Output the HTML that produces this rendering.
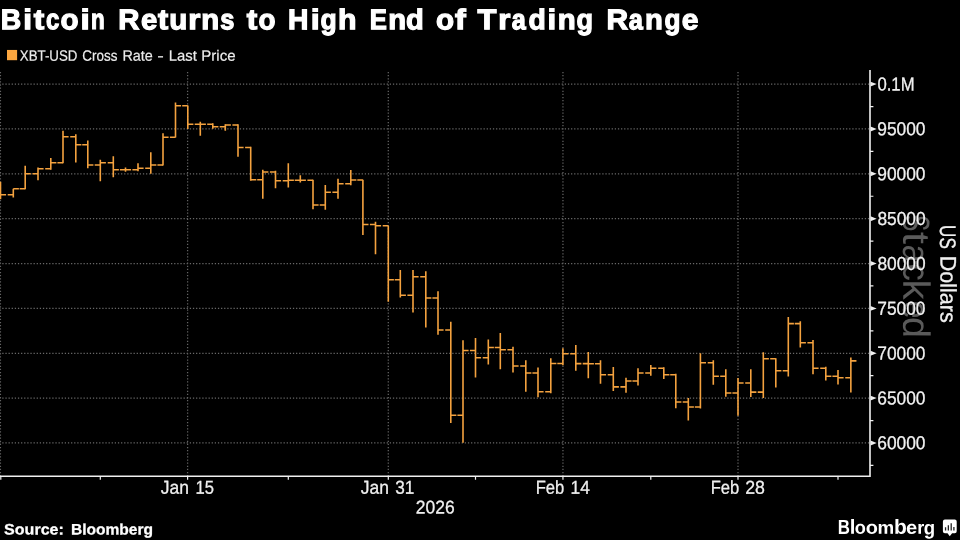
<!DOCTYPE html>
<html><head><meta charset="utf-8"><title>Bitcoin Returns to High End of Trading Range</title>
<style>
html,body{margin:0;padding:0;background:#000;}
body{width:960px;height:540px;overflow:hidden;}
svg{display:block;font-family:"Liberation Sans",sans-serif;}
svg text{filter:opacity(1);}
</style></head><body>
<svg width="960" height="540" viewBox="0 0 960 540">
<rect width="960" height="540" fill="#000"/>
<text transform="translate(903.18 214.68) rotate(90.03) scale(1.2435 1.8980)" font-size="20" fill="#5a5a5a">S</text>
<text transform="translate(903.18 231.84) rotate(90.03) scale(2.2157 1.8980)" font-size="20" fill="#5a5a5a">t</text>
<text transform="translate(903.18 244.74) rotate(90.03) scale(1.6000 1.8980)" font-size="20" fill="#5a5a5a">a</text>
<text transform="translate(903.18 263.53) rotate(90.03) scale(1.7326 1.8980)" font-size="20" fill="#5a5a5a">c</text>
<text transform="translate(903.18 279.57) rotate(90.03) scale(2.0231 1.8980)" font-size="20" fill="#5a5a5a">k</text>
<text transform="translate(903.18 300.64) rotate(90.03) scale(1.5957 1.8980)" font-size="20" fill="#5a5a5a">e</text>
<text transform="translate(903.18 317.00) rotate(90.03) scale(1.8778 1.8980)" font-size="20" fill="#5a5a5a">d</text>
<path d="M0 84.11H870.0M0 128.97H870.0M0 173.82H870.0M0 218.68H870.0M0 263.54H870.0M0 308.39H870.0M0 353.25H870.0M0 398.11H870.0M0 442.97H870.0" stroke="#696969" stroke-width="1.25" stroke-dasharray="1.25 1.875" stroke-dashoffset="0.83" fill="none"/>
<path d="M0.45 70.0V476.2M187.60 70.0V476.2M388.30 70.0V476.2M562.95 70.0V476.2M738.00 70.0V476.2" stroke="#646464" stroke-width="1.25" stroke-dasharray="1.25 1.875" stroke-dashoffset="1.2" fill="none"/>
<path d="M0.50 181.7V199.2M13.30 188.7V197.5M25.20 165.8V189.2M38.00 167.5V180.3M50.80 158.0V169.7M63.00 130.8V163.3M75.80 134.2V162.5M87.80 140.5V168.3M100.30 159.7V181.3M113.30 156.3V177.2M125.50 167.5V171.7M138.00 163.3V171.3M150.80 152.3V173.8M163.00 133.3V165.5M175.50 102.5V137.5M187.80 105.5V129.0M200.30 121.7V135.8M212.80 123.3V128.8M225.30 124.2V130.8M238.00 124.2V156.7M250.70 146.7V180.8M262.80 169.7V198.7M275.50 170.8V188.3M288.30 163.3V187.5M300.30 175.3V182.5M313.00 179.7V209.2M325.30 185.0V209.7M338.00 178.7V198.7M350.80 170.0V185.3M362.90 179.7V235.0M375.50 221.7V254.2M388.30 225.8V301.7M400.30 270.0V297.5M413.00 270.0V312.5M425.80 271.3V327.5M438.00 291.3V334.7M450.80 321.7V423.0M463.00 340.3V442.8M475.50 338.0V377.4M488.30 339.5V364.5M500.30 333.0V369.2M513.00 346.7V372.5M525.80 360.3V391.7M538.00 367.5V397.2M550.80 358.3V393.3M562.90 348.2V365.2M575.80 345.0V370.8M588.30 352.0V378.3M600.50 360.3V383.7M613.30 367.0V391.0M626.00 377.7V392.7M638.00 368.2V385.5M650.80 365.0V375.8M663.80 367.2V378.9M675.80 373.7V408.3M688.30 398.0V420.5M700.40 353.3V408.5M713.30 360.3V384.8M725.80 369.2V396.7M738.00 378.0V415.8M750.80 369.2V397.0M763.30 352.2V398.0M775.80 358.3V387.5M788.30 317.0V376.5M800.30 321.2V347.5M813.00 340.0V374.2M825.80 366.7V380.6M838.00 370.0V384.5M850.85 357.6V392.6" stroke="#f4a23f" stroke-width="1.6" fill="none"/>
<path d="M0.50 194.7h5.6M13.30 188.7h5.6M13.30 194.7h-5.6M25.20 173.8h5.6M25.20 188.7h-5.6M38.00 168.8h5.6M38.00 173.8h-5.6M50.80 162.8h5.6M50.80 168.8h-5.6M63.00 136.8h5.6M63.00 162.8h-5.6M75.80 144.8h5.6M75.80 136.8h-5.6M87.80 165.0h5.6M87.80 144.8h-5.6M100.30 162.8h5.6M100.30 165.0h-5.6M113.30 169.8h5.6M113.30 162.8h-5.6M125.50 169.8h5.6M125.50 169.8h-5.6M138.00 168.3h5.6M138.00 169.8h-5.6M150.80 165.0h5.6M150.80 168.3h-5.6M163.00 137.2h5.6M163.00 165.0h-5.6M175.50 105.8h5.6M175.50 137.2h-5.6M187.80 124.2h5.6M187.80 105.8h-5.6M200.30 124.2h5.6M200.30 124.2h-5.6M212.80 126.7h5.6M212.80 124.2h-5.6M225.30 125.0h5.6M225.30 126.7h-5.6M238.00 147.5h5.6M238.00 125.0h-5.6M250.70 179.7h5.6M250.70 147.5h-5.6M262.80 172.0h5.6M262.80 179.7h-5.6M275.50 180.8h5.6M275.50 172.0h-5.6M288.30 180.2h5.6M288.30 180.8h-5.6M300.30 180.2h5.6M300.30 180.2h-5.6M313.00 205.0h5.6M313.00 180.2h-5.6M325.30 192.2h5.6M325.30 205.0h-5.6M338.00 183.7h5.6M338.00 192.2h-5.6M350.80 180.0h5.6M350.80 183.7h-5.6M362.90 224.5h5.6M362.90 180.0h-5.6M375.50 225.8h5.6M375.50 224.5h-5.6M388.30 279.7h5.6M388.30 225.8h-5.6M400.30 295.3h5.6M400.30 279.7h-5.6M413.00 276.7h5.6M413.00 295.3h-5.6M425.80 298.0h5.6M425.80 276.7h-5.6M438.00 330.0h5.6M438.00 298.0h-5.6M450.80 415.3h5.6M450.80 330.0h-5.6M463.00 350.5h5.6M463.00 415.3h-5.6M475.50 357.8h5.6M475.50 350.5h-5.6M488.30 347.5h5.6M488.30 357.8h-5.6M500.30 349.7h5.6M500.30 347.5h-5.6M513.00 366.0h5.6M513.00 349.7h-5.6M525.80 373.0h5.6M525.80 366.0h-5.6M538.00 391.7h5.6M538.00 373.0h-5.6M550.80 363.5h5.6M550.80 391.7h-5.6M562.90 353.8h5.6M562.90 363.5h-5.6M575.80 363.6h5.6M575.80 353.8h-5.6M588.30 363.7h5.6M588.30 363.6h-5.6M600.50 374.7h5.6M600.50 363.7h-5.6M613.30 386.9h5.6M613.30 374.7h-5.6M626.00 381.0h5.6M626.00 386.9h-5.6M638.00 373.0h5.6M638.00 381.0h-5.6M650.80 368.2h5.6M650.80 373.0h-5.6M663.80 374.8h5.6M663.80 368.2h-5.6M675.80 402.0h5.6M675.80 374.8h-5.6M688.30 407.0h5.6M688.30 402.0h-5.6M700.40 362.8h5.6M700.40 407.0h-5.6M713.30 376.2h5.6M713.30 362.8h-5.6M725.80 393.0h5.6M725.80 376.2h-5.6M738.00 383.0h5.6M738.00 393.0h-5.6M750.80 392.1h5.6M750.80 383.0h-5.6M763.30 358.8h5.6M763.30 392.1h-5.6M775.80 370.8h5.6M775.80 358.8h-5.6M788.30 323.6h5.6M788.30 370.8h-5.6M800.30 342.8h5.6M800.30 323.6h-5.6M813.00 368.2h5.6M813.00 342.8h-5.6M825.80 376.2h5.6M825.80 368.2h-5.6M838.00 377.8h5.6M838.00 376.2h-5.6M850.85 360.9h5.6M850.85 377.8h-5.6" stroke="#f4a23f" stroke-width="1.6" fill="none"/>
<path d="M870.0 70.0V477.0M0 476.2H870.0" stroke="#f0f0f0" stroke-width="1.6" fill="none"/>
<path d="M870.5 81.66L876.7 84.11L870.5 86.56ZM870.5 126.52L876.7 128.97L870.5 131.42ZM870.5 171.37L876.7 173.82L870.5 176.27ZM870.5 216.23L876.7 218.68L870.5 221.13ZM870.5 261.09L876.7 263.54L870.5 265.99ZM870.5 305.94L876.7 308.39L870.5 310.84ZM870.5 350.80L876.7 353.25L870.5 355.70ZM870.5 395.66L876.7 398.11L870.5 400.56ZM870.5 440.52L876.7 442.97L870.5 445.42Z" fill="#f0f0f0"/>
<path d="M870.0 106.54h3.4M870.0 151.40h3.4M870.0 196.25h3.4M870.0 241.11h3.4M870.0 285.97h3.4M870.0 330.82h3.4M870.0 375.68h3.4M870.0 420.54h3.4M870.0 465.40h3.4" stroke="#f0f0f0" stroke-width="1.2" fill="none"/>
<path d="M0.80 476.2v3.6M187.60 476.2v3.6M388.30 476.2v3.6M562.95 476.2v3.6M738.00 476.2v3.6M100.30 476.2v3.6M288.30 476.2v3.6M475.50 476.2v3.6M650.80 476.2v3.6M838.00 476.2v3.6" stroke="#f0f0f0" stroke-width="1.2" fill="none"/>
<text transform="translate(877.46 90.48) rotate(0.03) scale(0.8345 0.9412)" font-size="20" fill="#f0f0f0" stroke="#f0f0f0" stroke-width="0.3">0.1M</text>
<text transform="translate(877.31 135.34) rotate(0.03) scale(0.8672 0.9412)" font-size="20" fill="#f0f0f0" stroke="#f0f0f0" stroke-width="0.3">95000</text>
<text transform="translate(877.31 180.19) rotate(0.03) scale(0.8672 0.9412)" font-size="20" fill="#f0f0f0" stroke="#f0f0f0" stroke-width="0.3">90000</text>
<text transform="translate(877.39 225.05) rotate(0.03) scale(0.8656 0.9412)" font-size="20" fill="#f0f0f0" stroke="#f0f0f0" stroke-width="0.3">85000</text>
<text transform="translate(877.39 269.91) rotate(0.03) scale(0.8656 0.9412)" font-size="20" fill="#f0f0f0" stroke="#f0f0f0" stroke-width="0.3">80000</text>
<text transform="translate(877.22 314.77) rotate(0.03) scale(0.8688 0.9412)" font-size="20" fill="#f0f0f0" stroke="#f0f0f0" stroke-width="0.3">75000</text>
<text transform="translate(877.22 359.62) rotate(0.03) scale(0.8688 0.9412)" font-size="20" fill="#f0f0f0" stroke="#f0f0f0" stroke-width="0.3">70000</text>
<text transform="translate(877.26 404.48) rotate(0.03) scale(0.8680 0.9412)" font-size="20" fill="#f0f0f0" stroke="#f0f0f0" stroke-width="0.3">65000</text>
<text transform="translate(877.26 449.34) rotate(0.03) scale(0.8680 0.9412)" font-size="20" fill="#f0f0f0" stroke="#f0f0f0" stroke-width="0.3">60000</text>
<text transform="translate(160.87 493.76) rotate(0.03) scale(0.8738 0.9395)" font-size="20" fill="#f0f0f0" stroke="#f0f0f0" stroke-width="0.3">Jan</text>
<text transform="translate(195.58 493.67) rotate(0.03) scale(0.8317 0.9343)" font-size="20" fill="#f0f0f0" stroke="#f0f0f0" stroke-width="0.3">15</text>
<text transform="translate(360.87 493.76) rotate(0.03) scale(0.8738 0.9395)" font-size="20" fill="#f0f0f0" stroke="#f0f0f0" stroke-width="0.3">Jan</text>
<text transform="translate(395.28 493.67) rotate(0.03) scale(0.8606 0.9343)" font-size="20" fill="#f0f0f0" stroke="#f0f0f0" stroke-width="0.3">31</text>
<text transform="translate(535.66 493.76) rotate(0.03) scale(0.8297 0.9395)" font-size="20" fill="#f0f0f0" stroke="#f0f0f0" stroke-width="0.3">Feb</text>
<text transform="translate(570.52 493.67) rotate(0.03) scale(0.8704 0.9343)" font-size="20" fill="#f0f0f0" stroke="#f0f0f0" stroke-width="0.3">14</text>
<text transform="translate(710.66 493.76) rotate(0.03) scale(0.8297 0.9395)" font-size="20" fill="#f0f0f0" stroke="#f0f0f0" stroke-width="0.3">Feb</text>
<text transform="translate(745.25 493.67) rotate(0.03) scale(0.8862 0.9343)" font-size="20" fill="#f0f0f0" stroke="#f0f0f0" stroke-width="0.3">28</text>
<text transform="translate(415.76 513.38) rotate(0.03) scale(0.8741 0.9273)" font-size="20" fill="#f0f0f0" stroke="#f0f0f0" stroke-width="0.3">2026</text>
<text transform="translate(940.47 225.11) rotate(90.03) scale(0.8516 1.1246)" font-size="20" fill="#f0f0f0" stroke="#f0f0f0" stroke-width="0.3">US</text>
<text transform="translate(940.47 255.79) rotate(90.03) scale(1.0764 1.1246)" font-size="20" fill="#f0f0f0" stroke="#f0f0f0" stroke-width="0.3">Dollars</text>
<text transform="translate(0.69 29.19) rotate(0.03) scale(1.4176 1.4281)" font-size="20" font-weight="700" fill="#fff" stroke="#fff" stroke-width="0.85">B</text>
<text transform="translate(23.26 29.19) rotate(0.03) scale(1.5833 1.4281)" font-size="20" font-weight="700" fill="#fff" stroke="#fff" stroke-width="0.85">i</text>
<text transform="translate(33.77 29.19) rotate(0.03) scale(1.5714 1.4281)" font-size="20" font-weight="700" fill="#fff" stroke="#fff" stroke-width="0.85">t</text>
<text transform="translate(46.05 29.19) rotate(0.03) scale(1.1981 1.4281)" font-size="20" font-weight="700" fill="#fff" stroke="#fff" stroke-width="0.85">c</text>
<text transform="translate(60.45 29.19) rotate(0.03) scale(1.4783 1.4281)" font-size="20" font-weight="700" fill="#fff" stroke="#fff" stroke-width="0.85">o</text>
<text transform="translate(80.38 29.19) rotate(0.03) scale(1.6667 1.4281)" font-size="20" font-weight="700" fill="#fff" stroke="#fff" stroke-width="0.85">i</text>
<text transform="translate(91.02 29.19) rotate(0.03) scale(1.1185 1.4281)" font-size="20" font-weight="700" fill="#fff" stroke="#fff" stroke-width="0.85">n</text>
<text transform="translate(118.34 29.19) rotate(0.03) scale(1.4667 1.4281)" font-size="20" font-weight="700" fill="#fff" stroke="#fff" stroke-width="0.85">R</text>
<text transform="translate(140.95 29.19) rotate(0.03) scale(1.4571 1.4281)" font-size="20" font-weight="700" fill="#fff" stroke="#fff" stroke-width="0.85">e</text>
<text transform="translate(158.07 29.19) rotate(0.03) scale(1.5286 1.4281)" font-size="20" font-weight="700" fill="#fff" stroke="#fff" stroke-width="0.85">t</text>
<text transform="translate(169.28 29.19) rotate(0.03) scale(1.4762 1.4281)" font-size="20" font-weight="700" fill="#fff" stroke="#fff" stroke-width="0.85">u</text>
<text transform="translate(188.13 29.19) rotate(0.03) scale(1.5603 1.4281)" font-size="20" font-weight="700" fill="#fff" stroke="#fff" stroke-width="0.85">r</text>
<text transform="translate(201.21 29.19) rotate(0.03) scale(1.4692 1.4281)" font-size="20" font-weight="700" fill="#fff" stroke="#fff" stroke-width="0.85">n</text>
<text transform="translate(220.15 29.19) rotate(0.03) scale(1.2727 1.4281)" font-size="20" font-weight="700" fill="#fff" stroke="#fff" stroke-width="0.85">s</text>
<text transform="translate(246.78 29.19) rotate(0.03) scale(1.5714 1.4281)" font-size="20" font-weight="700" fill="#fff" stroke="#fff" stroke-width="0.85">t</text>
<text transform="translate(258.48 29.19) rotate(0.03) scale(1.3913 1.4281)" font-size="20" font-weight="700" fill="#fff" stroke="#fff" stroke-width="0.85">o</text>
<text transform="translate(287.89 29.19) rotate(0.03) scale(1.4127 1.4281)" font-size="20" font-weight="700" fill="#fff" stroke="#fff" stroke-width="0.85">H</text>
<text transform="translate(310.63 29.19) rotate(0.03) scale(1.6111 1.4281)" font-size="20" font-weight="700" fill="#fff" stroke="#fff" stroke-width="0.85">i</text>
<text transform="translate(320.50 29.19) rotate(0.03) scale(1.3242 1.4281)" font-size="20" font-weight="700" fill="#fff" stroke="#fff" stroke-width="0.85">g</text>
<text transform="translate(338.03 29.19) rotate(0.03) scale(1.5120 1.4281)" font-size="20" font-weight="700" fill="#fff" stroke="#fff" stroke-width="0.85">h</text>
<text transform="translate(369.81 29.19) rotate(0.03) scale(1.2863 1.4281)" font-size="20" font-weight="700" fill="#fff" stroke="#fff" stroke-width="0.85">E</text>
<text transform="translate(388.32 29.19) rotate(0.03) scale(1.4597 1.4281)" font-size="20" font-weight="700" fill="#fff" stroke="#fff" stroke-width="0.85">n</text>
<text transform="translate(406.06 29.19) rotate(0.03) scale(1.4521 1.4281)" font-size="20" font-weight="700" fill="#fff" stroke="#fff" stroke-width="0.85">d</text>
<text transform="translate(435.95 29.19) rotate(0.03) scale(1.4783 1.4281)" font-size="20" font-weight="700" fill="#fff" stroke="#fff" stroke-width="0.85">o</text>
<text transform="translate(455.12 29.19) rotate(0.03) scale(1.6111 1.4281)" font-size="20" font-weight="700" fill="#fff" stroke="#fff" stroke-width="0.85">f</text>
<text transform="translate(477.55 29.19) rotate(0.03) scale(1.5494 1.4281)" font-size="20" font-weight="700" fill="#fff" stroke="#fff" stroke-width="0.85">T</text>
<text transform="translate(498.13 29.19) rotate(0.03) scale(1.5603 1.4281)" font-size="20" font-weight="700" fill="#fff" stroke="#fff" stroke-width="0.85">r</text>
<text transform="translate(511.78 29.19) rotate(0.03) scale(1.2609 1.4281)" font-size="20" font-weight="700" fill="#fff" stroke="#fff" stroke-width="0.85">a</text>
<text transform="translate(528.47 29.19) rotate(0.03) scale(1.4155 1.4281)" font-size="20" font-weight="700" fill="#fff" stroke="#fff" stroke-width="0.85">d</text>
<text transform="translate(547.48 29.19) rotate(0.03) scale(1.5556 1.4281)" font-size="20" font-weight="700" fill="#fff" stroke="#fff" stroke-width="0.85">i</text>
<text transform="translate(557.71 29.19) rotate(0.03) scale(1.4692 1.4281)" font-size="20" font-weight="700" fill="#fff" stroke="#fff" stroke-width="0.85">n</text>
<text transform="translate(576.49 29.19) rotate(0.03) scale(1.3516 1.4281)" font-size="20" font-weight="700" fill="#fff" stroke="#fff" stroke-width="0.85">g</text>
<text transform="translate(606.42 29.19) rotate(0.03) scale(1.4963 1.4281)" font-size="20" font-weight="700" fill="#fff" stroke="#fff" stroke-width="0.85">R</text>
<text transform="translate(628.78 29.19) rotate(0.03) scale(1.2696 1.4281)" font-size="20" font-weight="700" fill="#fff" stroke="#fff" stroke-width="0.85">a</text>
<text transform="translate(645.02 29.19) rotate(0.03) scale(1.4597 1.4281)" font-size="20" font-weight="700" fill="#fff" stroke="#fff" stroke-width="0.85">n</text>
<text transform="translate(664.51 29.19) rotate(0.03) scale(1.3059 1.4281)" font-size="20" font-weight="700" fill="#fff" stroke="#fff" stroke-width="0.85">g</text>
<text transform="translate(681.74 29.19) rotate(0.03) scale(1.4952 1.4281)" font-size="20" font-weight="700" fill="#fff" stroke="#fff" stroke-width="0.85">e</text>
<rect x="7" y="49.95" width="10.1" height="10.25" fill="#fba63f"/>
<text transform="translate(19.78 60.66) rotate(0.03) scale(0.6651 0.7500)" font-size="20" fill="#ececec" stroke="#ececec" stroke-width="0.25">XBT-USD</text>
<text transform="translate(82.31 60.66) rotate(0.03) scale(0.6732 0.7500)" font-size="20" fill="#ececec" stroke="#ececec" stroke-width="0.25">Cross</text>
<text transform="translate(122.40 60.66) rotate(0.03) scale(0.7196 0.7500)" font-size="20" fill="#ececec" stroke="#ececec" stroke-width="0.25">Rate</text>
<text transform="translate(157.34 60.66) rotate(0.03) scale(0.9804 0.7500)" font-size="20" fill="#ececec" stroke="#ececec" stroke-width="0.25">-</text>
<text transform="translate(168.87 60.66) rotate(0.03) scale(0.7421 0.7500)" font-size="20" fill="#ececec" stroke="#ececec" stroke-width="0.25">Last</text>
<text transform="translate(201.25 60.66) rotate(0.03) scale(0.7529 0.7500)" font-size="20" fill="#ececec" stroke="#ececec" stroke-width="0.25">Price</text>
<text transform="translate(4.11 534.47) rotate(0.03) scale(0.8029 0.7589)" font-size="20" font-weight="700" fill="#fff" stroke="#fff" stroke-width="0.35">Source:</text>
<text transform="translate(70.88 534.47) rotate(0.03) scale(0.7797 0.7589)" font-size="20" font-weight="700" fill="#fff" stroke="#fff" stroke-width="0.35">Bloomberg</text>
<text transform="translate(837.86 533.80) rotate(0.03) scale(0.8443 1.0255)" font-size="20" font-weight="700" fill="#fff">B</text>
<text transform="translate(849.77 533.80) rotate(0.03) scale(1.0182 1.0138)" font-size="20" font-weight="700" fill="#fff">l</text>
<text transform="translate(854.87 533.82) rotate(0.03) scale(0.9108 0.9224)" font-size="20" font-weight="700" fill="#fff">o</text>
<text transform="translate(865.70 533.82) rotate(0.03) scale(0.9953 0.9224)" font-size="20" font-weight="700" fill="#fff">o</text>
<text transform="translate(877.38 533.80) rotate(0.03) scale(0.9377 0.9163)" font-size="20" font-weight="700" fill="#fff">m</text>
<text transform="translate(894.04 533.80) rotate(0.03) scale(1.0495 1.0136)" font-size="20" font-weight="700" fill="#fff">b</text>
<text transform="translate(906.10 533.82) rotate(0.03) scale(1.0052 0.9224)" font-size="20" font-weight="700" fill="#fff">e</text>
<text transform="translate(917.33 533.80) rotate(0.03) scale(0.9032 0.9163)" font-size="20" font-weight="700" fill="#fff">r</text>
<text transform="translate(923.66 534.51) rotate(0.03) scale(0.9307 0.9867)" font-size="20" font-weight="700" fill="#fff">g</text>
<path d="M944.9 519.4h9.8a2 2 0 0 1 2 2v9.8a2 2 0 0 1-2 2h-2.6l-2.3 3-2.3-3h-2.6a2 2 0 0 1-2-2v-9.8a2 2 0 0 1 2-2z" fill="#fff"/>
<path d="M945.55 527.3v3.1M948.35 525.2v5.2M951.2 523.2v7.2M953.9 527v3.4" stroke="#222" stroke-width="1.3" fill="none"/>
</svg>
</body></html>
